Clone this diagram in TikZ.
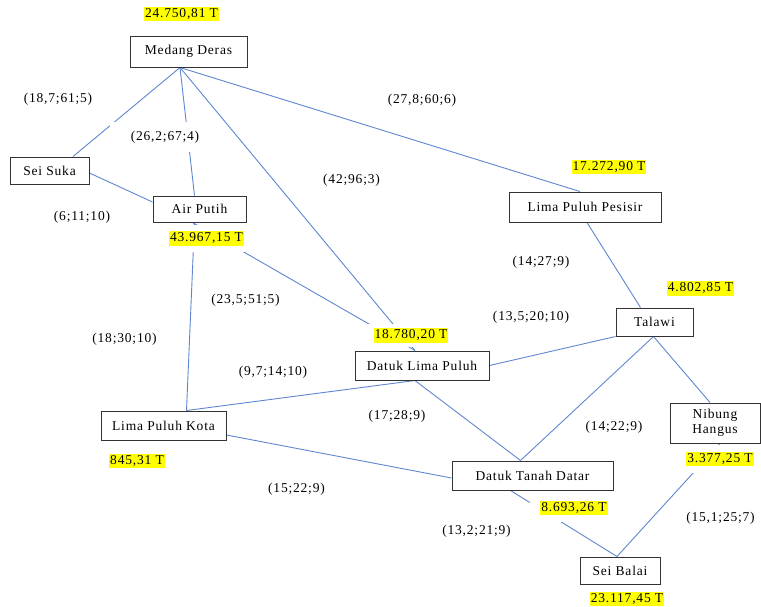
\documentclass[tikz,border=0pt]{standalone}
\usepackage{fontspec}
\setmainfont{Liberation Serif}[LetterSpace=6]
\usetikzlibrary{backgrounds}
\definecolor{edgeblue}{RGB}{95,135,208}
\definecolor{hlyellow}{RGB}{255,255,0}
\newcommand{\hlbox}[1]{{\setlength{\fboxsep}{1pt}\colorbox{hlyellow}{\rule[-3pt]{0pt}{12.5pt}#1}}}
\begin{document}
\begin{tikzpicture}[x=1pt,y=-1pt,
  every node/.style={font=\fontsize{13.5}{14.5}\selectfont},
  region/.style={draw=black!80, line width=1pt, fill=white, inner sep=0pt},
  valuelabel/.style={fill=white, inner xsep=6pt, inner ysep=6pt},
  costlabel/.style={fill=white, inner sep=2pt},
  link/.style={draw=edgeblue, line width=0.9pt}]
\useasboundingbox (0,0) rectangle (761,606);

% regions
\node[region, minimum width=117pt, minimum height=31pt] (md) at (188.5,51.5) {Medang Deras};
\node[region, minimum width=79pt, minimum height=27pt] (ss) at (49.5,170.5) {Sei Suka};
\node[region, minimum width=93pt, minimum height=26pt] (ap) at (199.5,209) {Air Putih};
\node[region, minimum width=152pt, minimum height=30pt] (lpp) at (585,207) {Lima Puluh Pesisir};
\node[region, minimum width=77pt, minimum height=28pt] (tal) at (654.5,322) {Talawi};
\node[region, minimum width=134pt, minimum height=29pt] (dlp) at (422,365.5) {Datuk Lima Puluh};
\node[region, minimum width=125pt, minimum height=29pt] (lpk) at (163.5,425.5) {Lima Puluh Kota};
\node[region, minimum width=90pt, minimum height=40pt, align=center] (nh) at (715,423) {Nibung\\Hangus};
\node[region, minimum width=161pt, minimum height=29pt] (dtd) at (532.5,475.5) {Datuk Tanah Datar};
\node[region, minimum width=80pt, minimum height=27pt] (sb) at (620,570.5) {Sei Balai};

% values
\node[valuelabel] (v1) at (181.5,14) {\hlbox{24.750,81 T}};
\node[valuelabel] (v2) at (609,167) {\hlbox{17.272,90 T}};
\node[valuelabel] (v3) at (206.5,238.5) {\hlbox{43.967,15 T}};
\node[valuelabel] (v4) at (700.5,288.5) {\hlbox{4.802,85 T}};
\node[valuelabel, inner ysep=4.5pt] (v5) at (411,335.5) {\hlbox{18.780,20 T}};
\node[valuelabel] (v6) at (137,461) {\hlbox{845,31 T}};
\node[valuelabel, inner ysep=7pt] (v7) at (720,459) {\hlbox{3.377,25 T}};
\node[valuelabel, inner xsep=10pt, inner ysep=7pt] (v8) at (574,508) {\hlbox{8.693,26 T}};
\node[valuelabel] (v9) at (627,599) {\hlbox{23.117,45 T}};

% costs
\node[costlabel] (c1) at (58,99.5) {(18,7;61;5)};
\node[costlabel, minimum width=110pt, minimum height=30pt] (c2) at (165,137) {(26,2;67;4)};
\node[costlabel] (c3) at (82,217.5) {(6;11;10)};
\node[costlabel] (c4) at (351.5,180) {(42;96;3)};
\node[costlabel] (c5) at (422,100.5) {(27,8;60;6)};
\node[costlabel] (c6) at (541,262.5) {(14;27;9)};
\node[costlabel] (c7) at (531,317) {(13,5;20;10)};
\node[costlabel] (c8) at (245.5,300) {(23,5;51;5)};
\node[costlabel] (c9) at (124.5,339.5) {(18;30;10)};
\node[costlabel] (c10) at (273,372.5) {(9,7;14;10)};
\node[costlabel] (c11) at (397,416) {(17;28;9)};
\node[costlabel] (c12) at (614,427.5) {(14;22;9)};
\node[costlabel] (c13) at (296.5,489) {(15;22;9)};
\node[costlabel] (c14) at (476.5,531) {(13,2;21;9)};
\node[costlabel] (c15) at (720.5,518) {(15,1;25;7)};

\begin{pgfonlayer}{background}
\fill[white] (0,0) rectangle (761,606);
\draw[link] ([xshift=-8.5pt]md.south) -- ([xshift=23.5pt]ss.north);
\draw[link] ([xshift=-8.5pt]md.south) -- ([xshift=-5pt]ap.north);
\draw[link] ([xshift=-8.5pt]md.south) -- ([xshift=-7pt]dlp.north);
\draw[link] ([xshift=-8.5pt]md.south) -- ([xshift=-5pt]lpp.north);
\draw[link] ([yshift=-2.5pt]ss.east) -- ([yshift=7pt]ap.west);
\draw[link] ([xshift=-5pt]ap.south) -- ([xshift=23pt]lpk.north);
\draw[link] ([xshift=-7pt]ap.south) -- ([xshift=-7pt]dlp.north);
\draw[link] ([xshift=2pt]lpp.south) -- ([xshift=-14pt]tal.north);
\draw[link] (tal.south west) -- (dlp.east);
\draw[link] ([xshift=-1pt]tal.south) -- ([xshift=-12pt]dtd.north);
\draw[link] ([xshift=-1pt]tal.south) -- ([xshift=-5pt]nh.north);
\draw[link] ([xshift=-7pt]dlp.south) -- ([xshift=-12pt]dtd.north);
\draw[link] ([xshift=23pt]lpk.north) -- ([xshift=-7pt]dlp.south);
\draw[link] ([yshift=-9.5pt]lpk.east) -- ([yshift=-2.5pt]dtd.west);
\draw[link] ([xshift=-22pt]dtd.south) -- ([xshift=-3pt]sb.north);
\draw[link] ([xshift=5pt]nh.south) -- ([xshift=-3pt]sb.north);
\end{pgfonlayer}
\end{tikzpicture}
\end{document}
